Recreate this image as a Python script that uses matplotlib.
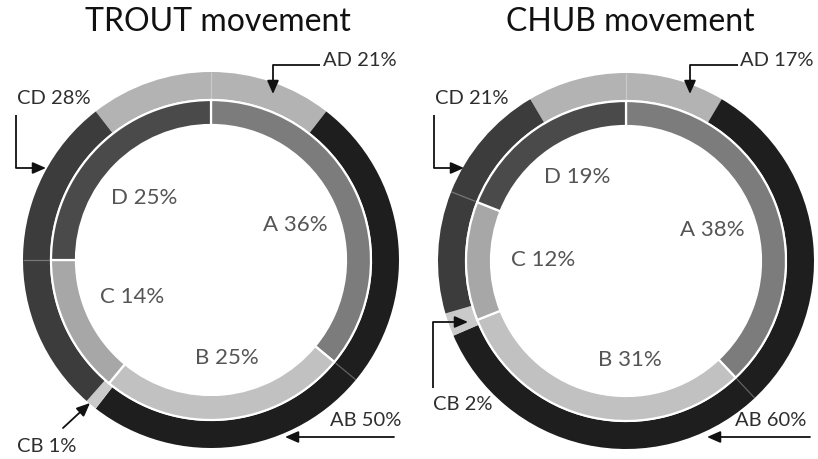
import math
import matplotlib
matplotlib.use("Agg")
import matplotlib.pyplot as plt

W, H = 818, 459

# ---------------- data ----------------
titles = ["TROUT movement", "CHUB movement"]
inner_labels = ["A", "B", "C", "D"]
trout_inner = [36, 25, 14, 25]
chub_inner = [38, 31, 12, 19]
outer_labels = ["AD", "AB", "CB", "CD"]
trout_outer = [21, 50, 1, 28]
chub_outer = [17, 60, 2, 21]

# ---------------- style ----------------
inner_colors = ["#7c7c7c", "#c1c1c1", "#a7a7a7", "#4a4a4a"]
outer_colors = ["#b3b3b3", "#1e1e1e", "#cacaca", "#3c3c3c"]
FONT = "Lato"

plt.rcParams['font.family'] = [FONT, 'DejaVu Sans']

fig = plt.figure(figsize=(W / 100, H / 100), dpi=100)
ax = fig.add_axes([0, 0, 1, 1])

R_OUT, W_OUT = 188, 27
R_IN, W_IN = 160, 25


def P(x, y):
    """pixel coords (y down) -> data coords (y up)"""
    return (x, H - y)


def polar(c, theta_deg, r):
    """angle measured clockwise from 12 o'clock"""
    a = math.radians(90 - theta_deg)
    return (c[0] + r * math.cos(a), c[1] + r * math.sin(a))


charts = [
    dict(title=titles[0], inner=trout_inner, outer=trout_outer,
         center=P(211, 260), title_xy=P(218, 22),
         inner_pos=[P(295, 225), P(227, 358), P(132, 297), P(144, 198)],
         ann=[  # label position (left/center), path points, ha
             dict(text_xy=P(323, 61), ha='left', path=[P(320, 65), P(273, 65), P(273, 94)]),
             dict(text_xy=P(330, 421), ha='left', path=[P(394, 437), P(285, 437)]),
             dict(text_xy=P(17, 446), ha='left', path=[P(63, 428), P(90, 403)]),
             dict(text_xy=P(17, 99), ha='left', path=[P(16, 115), P(16, 168), P(46, 168)]),
         ]),
    dict(title=titles[1], inner=chub_inner, outer=chub_outer,
         center=P(626, 261), title_xy=P(630, 22),
         inner_pos=[P(712, 230), P(630, 360), P(543, 260), P(577, 177)],
         ann=[
             dict(text_xy=P(740, 61), ha='left', path=[P(738, 65), P(690, 65), P(690, 94)]),
             dict(text_xy=P(735, 421), ha='left', path=[P(810, 437), P(707, 437)]),
             dict(text_xy=P(433, 404), ha='left', path=[P(433, 388), P(433, 322), P(468, 322)]),
             dict(text_xy=P(435, 98), ha='left', path=[P(434, 115), P(434, 168), P(464, 168)]),
         ]),
]

for ch in charts:
    c = ch['center']
    inner, outer = ch['inner'], ch['outer']
    # outer ring: AD centred on 12 o'clock
    start_out = 90 + outer[0] * 3.6 / 2
    ax.pie(outer, radius=R_OUT, center=c, startangle=start_out, counterclock=False,
           colors=outer_colors, wedgeprops=dict(width=W_OUT, edgecolor='none', linewidth=0))
    # inner ring
    ax.pie(inner, radius=R_IN, center=c, startangle=90, counterclock=False,
           colors=inner_colors, wedgeprops=dict(width=W_IN, edgecolor='white', linewidth=1.6))

    # faint seams in the outer ring at inner boundaries (D/A, A/B, C/D)
    cum = [0]
    for v in inner:
        cum.append(cum[-1] + v)
    for k in (0, 1, 3):
        th = cum[k] * 3.6
        p1 = polar(c, th, R_OUT - W_OUT + 1)
        p2 = polar(c, th, R_OUT)
        ax.plot([p1[0], p2[0]], [p1[1], p2[1]], color='white', alpha=0.3, lw=0.9,
                solid_capstyle='butt')

    # inner labels
    for lab, v, pos in zip(inner_labels, inner, ch['inner_pos']):
        ax.text(pos[0], pos[1], f"{lab} {v}%", ha='center', va='center',
                fontsize=16, color='#555555')

    # outer labels with arrows
    for lab, v, a in zip(outer_labels, outer, ch['ann']):
        ax.text(a['text_xy'][0], a['text_xy'][1], f"{lab} {v}%", ha=a['ha'], va='center',
                fontsize=14.5, color='#2e2e2e')
        pts = a['path']
        if len(pts) > 2:
            xs = [p[0] for p in pts[:-1]]
            ys = [p[1] for p in pts[:-1]]
            ax.plot(xs, ys, color='#111111', lw=1.3, solid_capstyle='butt')
        ax.annotate('', xy=pts[-1], xytext=pts[-2],
                    arrowprops=dict(arrowstyle='-|>,head_length=0.8,head_width=0.35',
                                    color='#111111', lw=1.3, shrinkA=0, shrinkB=0))

    ax.text(ch['title_xy'][0], ch['title_xy'][1], ch['title'], ha='center', va='center',
            fontsize=23, color='#111111')

ax.set_xlim(0, W)
ax.set_ylim(0, H)
ax.set_aspect('equal')
ax.set_position([0, 0, 1, 1])
ax.axis('off')
fig.savefig("out.png", dpi=100)
